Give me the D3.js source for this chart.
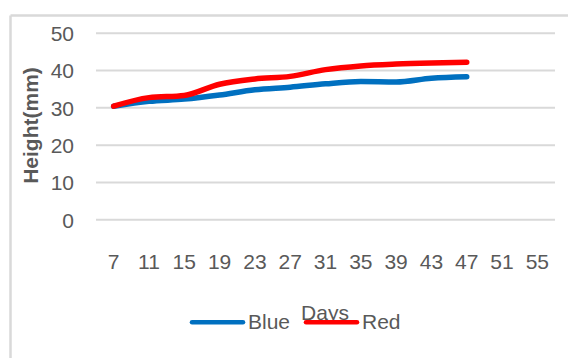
<!DOCTYPE html>
<html>
<head>
<meta charset="utf-8">
<script src="https://cdn.jsdelivr.net/npm/d3@7"></script>
<style>
  body { margin: 0; background: #fff; }
  svg { display: block; font-family: "Liberation Sans", Arial, sans-serif; }
</style>
</head>
<body>
<svg width="568" height="358"></svg>
<script>
// data
var days = ["7", "11", "15", "19", "23", "27", "31", "35", "39", "43", "47", "51", "55"];
var blue = [30.3, 31.6, 32.2, 33.3, 34.7, 35.4, 36.3, 36.9, 36.8, 37.8, 38.2];
var red = [30.3, 32.6, 33.2, 36.2, 37.6, 38.3, 40.1, 41.1, 41.6, 41.9, 42.1];
var yTicks = [0, 10, 20, 30, 40, 50];
var legendItems = [{ name: "Blue", color: "#0070C0" }, { name: "Red", color: "#FF0000" }];

var svg = d3.select("svg");
var textColor = "#595959";
var gridColor = "#d9d9d9";

// chart frame (only top and left edges are visible)
svg.append("line").attr("x1", 10.5).attr("x2", 568).attr("y1", 15.5).attr("y2", 15.5)
    .attr("stroke", gridColor).attr("stroke-width", 2.5);
svg.append("line").attr("x1", 10.5).attr("x2", 10.5).attr("y1", 15.5).attr("y2", 358)
    .attr("stroke", gridColor).attr("stroke-width", 2.5);

var x = d3.scaleBand().domain(days).range([96, 555]).padding(0);
var y = d3.scaleLinear().domain([0, 50]).range([219.3, 32.7]);

// y axis with gridlines
var yAxis = svg.append("g")
    .attr("transform", "translate(96,0)")
    .call(d3.axisLeft(y).tickValues(yTicks).tickSizeInner(-459).tickSizeOuter(0).tickPadding(22));
yAxis.select(".domain").remove();
yAxis.selectAll(".tick line").attr("stroke", gridColor).attr("stroke-width", 2);
yAxis.selectAll(".tick text")
    .attr("fill", textColor).style("font-size", "21px")
    .attr("dy", "0.37em");

// x axis labels
var xAxis = svg.append("g")
    .attr("transform", "translate(0,219.3)")
    .call(d3.axisBottom(x).tickSize(0).tickPadding(34.5));
xAxis.select(".domain").remove();
xAxis.selectAll(".tick text")
    .attr("fill", textColor).style("font-size", "21px")
    .attr("dy", "0.71em");

// axis titles
svg.append("text")
    .attr("transform", "translate(37.5,125.5) rotate(-90)")
    .attr("text-anchor", "middle")
    .attr("fill", textColor)
    .style("font-size", "21px")
    .style("font-weight", "bold")
    .text("Height(mm)");

svg.append("text")
    .attr("x", 325).attr("y", 320)
    .attr("text-anchor", "middle")
    .attr("fill", textColor)
    .style("font-size", "21px")
    .text("Days");

// lines
var line = d3.line()
    .x(function (d, i) { return x(days[i]) + x.bandwidth() / 2; })
    .y(function (d) { return y(d); })
    .curve(d3.curveMonotoneX);

[blue, red].forEach(function (series, i) {
    svg.append("path")
        .datum(series)
        .attr("d", line)
        .attr("fill", "none")
        .attr("stroke", legendItems[i].color)
        .attr("stroke-width", 5.5)
        .attr("stroke-linecap", "round")
        .attr("stroke-linejoin", "round");
});

// legend
var legendX = [192, 306];
legendItems.forEach(function (item, i) {
    var g = svg.append("g").attr("transform", "translate(" + legendX[i] + ",322.3)");
    g.append("line")
        .attr("x1", 0).attr("x2", 51).attr("y1", 0).attr("y2", 0)
        .attr("stroke", item.color).attr("stroke-width", 4.5)
        .attr("stroke-linecap", "round");
    g.append("text")
        .attr("x", 56).attr("y", 6.5)
        .attr("fill", textColor)
        .style("font-size", "21px")
        .text(item.name);
});
</script>
</body>
</html>
